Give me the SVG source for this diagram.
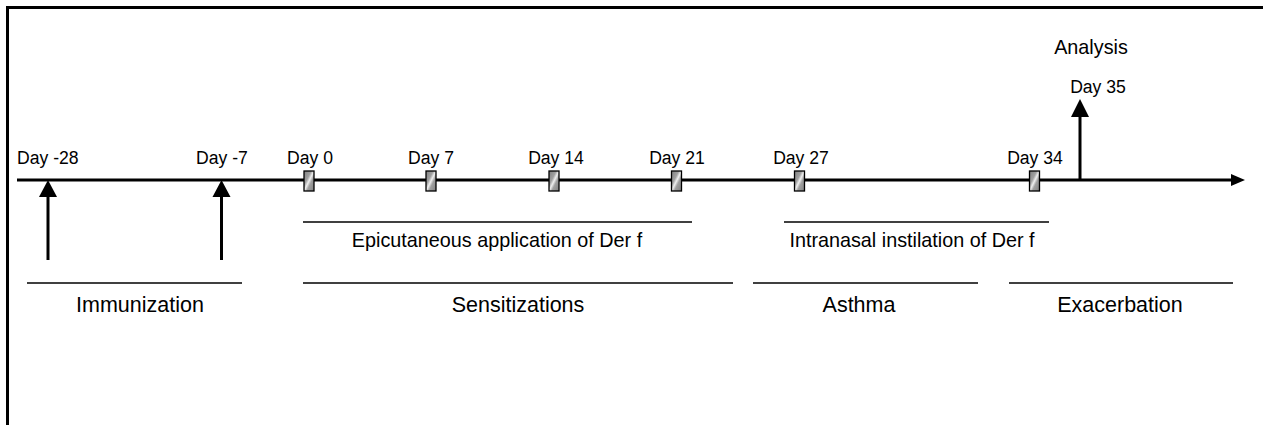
<svg xmlns="http://www.w3.org/2000/svg" width="1263" height="425" viewBox="0 0 1263 425">
<style>
text{font-family:"Liberation Sans",Arial,sans-serif;fill:#000}
.day{font-size:17.6px}
.mid{font-size:19.8px}
.ph{font-size:21.5px}
.an{font-size:19.8px}
.bar{stroke:#000;stroke-width:1.6}
.box{fill:url(#hatch);stroke:#000;stroke-width:1.3}
.ax{stroke:#000;stroke-width:3}
</style>
<defs>
<linearGradient id="hatch" x1="0" y1="0" x2="1" y2="1">
<stop offset="0" stop-color="#808080"/>
<stop offset="0.36" stop-color="#a0a0a0"/>
<stop offset="0.5" stop-color="#f0f0f0"/>
<stop offset="0.64" stop-color="#a0a0a0"/>
<stop offset="1" stop-color="#808080"/>
</linearGradient>
</defs>
<rect x="0" y="0" width="1263" height="425" fill="#fff"/>
<rect x="7.5" y="7.5" width="1300" height="500" fill="none" stroke="#000" stroke-width="3"/>
<g id="connectors">
<line class="ax" x1="17" y1="180" x2="1234" y2="180"/>
<polygon points="1231,174 1245,180 1231,186" fill="#000"/>
<line class="ax" x1="48" y1="260" x2="48" y2="194"/>
<polygon points="39,197 57,197 48,180" fill="#000"/>
<line class="ax" x1="221.5" y1="260" x2="221.5" y2="194"/>
<polygon points="212.5,197 230.5,197 221.5,180" fill="#000"/>
<line class="ax" x1="1080" y1="181" x2="1080" y2="114"/>
<polygon points="1071,117 1089,117 1080,99" fill="#000"/>
</g>
<g id="day-28"><text class="day" x="17" y="164">Day -28</text></g>
<g id="day-7"><text class="day" x="222" y="164" text-anchor="middle">Day -7</text></g>
<g id="day0"><rect class="box" x="304" y="171" width="10" height="20"/><text class="day" x="310" y="164" text-anchor="middle">Day 0</text></g>
<g id="day7"><rect class="box" x="426" y="171" width="10" height="20"/><text class="day" x="431" y="164" text-anchor="middle">Day 7</text></g>
<g id="day14"><rect class="box" x="549" y="171" width="10" height="20"/><text class="day" x="556" y="164" text-anchor="middle">Day 14</text></g>
<g id="day21"><rect class="box" x="671.5" y="171" width="10" height="20"/><text class="day" x="677" y="164" text-anchor="middle">Day 21</text></g>
<g id="day27"><rect class="box" x="794.5" y="171" width="10" height="20"/><text class="day" x="801" y="164" text-anchor="middle">Day 27</text></g>
<g id="day34"><rect class="box" x="1029.5" y="171" width="10" height="20"/><text class="day" x="1035" y="164" text-anchor="middle">Day 34</text></g>
<g id="day35"><text class="day" x="1098" y="93" text-anchor="middle">Day 35</text></g>
<g id="analysis"><text class="an" x="1091" y="54" text-anchor="middle">Analysis</text></g>
<g id="epicutaneous"><line class="bar" x1="303" y1="222" x2="692" y2="222"/><text class="mid" x="497" y="247" text-anchor="middle">Epicutaneous application of Der f</text></g>
<g id="intranasal"><line class="bar" x1="784" y1="222" x2="1049" y2="222"/><text class="mid" x="912" y="247" text-anchor="middle">Intranasal instilation of Der f</text></g>
<g id="immunization"><line class="bar" x1="27" y1="283" x2="242" y2="283"/><text class="ph" x="140" y="312" text-anchor="middle">Immunization</text></g>
<g id="sensitizations"><line class="bar" x1="303" y1="283" x2="733" y2="283"/><text class="ph" x="518" y="312" text-anchor="middle">Sensitizations</text></g>
<g id="asthma"><line class="bar" x1="753" y1="283" x2="978" y2="283"/><text class="ph" x="859" y="312" text-anchor="middle">Asthma</text></g>
<g id="exacerbation"><line class="bar" x1="1009" y1="283" x2="1233" y2="283"/><text class="ph" x="1120" y="312" text-anchor="middle">Exacerbation</text></g>
</svg>
